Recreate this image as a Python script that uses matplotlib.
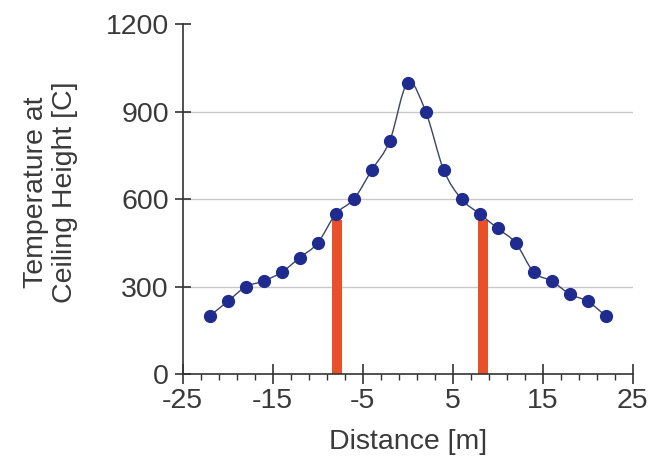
import matplotlib
matplotlib.use("Agg")
import matplotlib.pyplot as plt
import numpy as np
from matplotlib.path import Path
from matplotlib.patches import PathPatch

# Data
distance = [-22, -20, -18, -16, -14, -12, -10, -8, -6, -4, -2, 0,
            2, 4, 6, 8, 10, 12, 14, 16, 18, 20, 22]
temperature = [200, 250, 300, 320, 350, 400, 450, 550, 600, 700, 800, 1000,
               900, 700, 600, 550, 500, 450, 350, 320, 275, 250, 200]
bar_x = [-7.9, 8.4]
bar_h = [530, 530]

x_ticks = [-25, -15, -5, 5, 15, 25]
x_minor = [-23, -21, -19, -17, -13, -11, -9, -7, -3, -1, 1, 3,
           7, 9, 11, 13, 17, 19, 21, 23]
y_ticks = [0, 300, 600, 900, 1200]

plt.rcParams['font.family'] = ['Liberation Sans', 'DejaVu Sans']
plt.rcParams['axes.unicode_minus'] = False
text_color = '#3a3a3a'

fig = plt.figure(figsize=(6.49, 4.59), dpi=100)
ax = fig.add_axes([0.2815, 0.1845, 0.6935, 0.7625])

# grid
for yv in y_ticks[1:-1]:
    ax.axhline(yv, color='#c8c8c8', lw=1.0, zorder=0)

# bars
ax.bar(bar_x, bar_h, width=1.1, color='#e8502a', zorder=2)

# smoothed line (Catmull-Rom bezier through the data points)
xs = np.asarray(distance, float)
ys = np.asarray(temperature, float)
verts = [(xs[0], ys[0])]
codes = [Path.MOVETO]
t = 1 / 6
for i in range(len(xs) - 1):
    p0 = np.array([xs[max(i - 1, 0)], ys[max(i - 1, 0)]])
    p1 = np.array([xs[i], ys[i]])
    p2 = np.array([xs[i + 1], ys[i + 1]])
    p3 = np.array([xs[min(i + 2, len(xs) - 1)], ys[min(i + 2, len(xs) - 1)]])
    c1 = p1 + (p2 - p0) * t
    c2 = p2 - (p3 - p1) * t
    verts += [tuple(c1), tuple(c2), tuple(p2)]
    codes += [Path.CURVE4] * 3
ax.add_patch(PathPatch(Path(verts, codes), fill=False, edgecolor='#3b4466',
                       lw=1.0, zorder=3))
ax.plot(distance, temperature, linestyle='none', marker='o', markersize=8.5,
        color='#1f2b8e', zorder=4)

ax.set_xlim(-25, 25)
ax.set_ylim(0, 1200)
ax.set_xticks(x_ticks)
ax.set_xticks(x_minor, minor=True)
ax.set_yticks(y_ticks)

for s in ['top', 'right']:
    ax.spines[s].set_visible(False)
for s in ['left', 'bottom']:
    ax.spines[s].set_color('#333333')
    ax.spines[s].set_linewidth(1.2)

ax.tick_params(axis='x', which='major', direction='inout', length=14, width=1.2,
               color='#333333', labelsize=20.5, labelcolor=text_color, pad=3)
ax.tick_params(axis='x', which='minor', direction='out', length=4, width=1.0,
               color='#333333')
ax.tick_params(axis='y', which='major', direction='inout', length=12, width=1.2,
               color='#333333', labelsize=20.5, labelcolor=text_color, pad=4)

ax.set_xlabel('Distance [m]', fontsize=20.5, color=text_color, labelpad=11)
ax.set_ylabel('Temperature at\nCeiling Height [C]', fontsize=20.5,
              color=text_color, linespacing=1.15)
ax.yaxis.set_label_coords(-0.232, 0.52)

fig.savefig('out.png', dpi=100)
